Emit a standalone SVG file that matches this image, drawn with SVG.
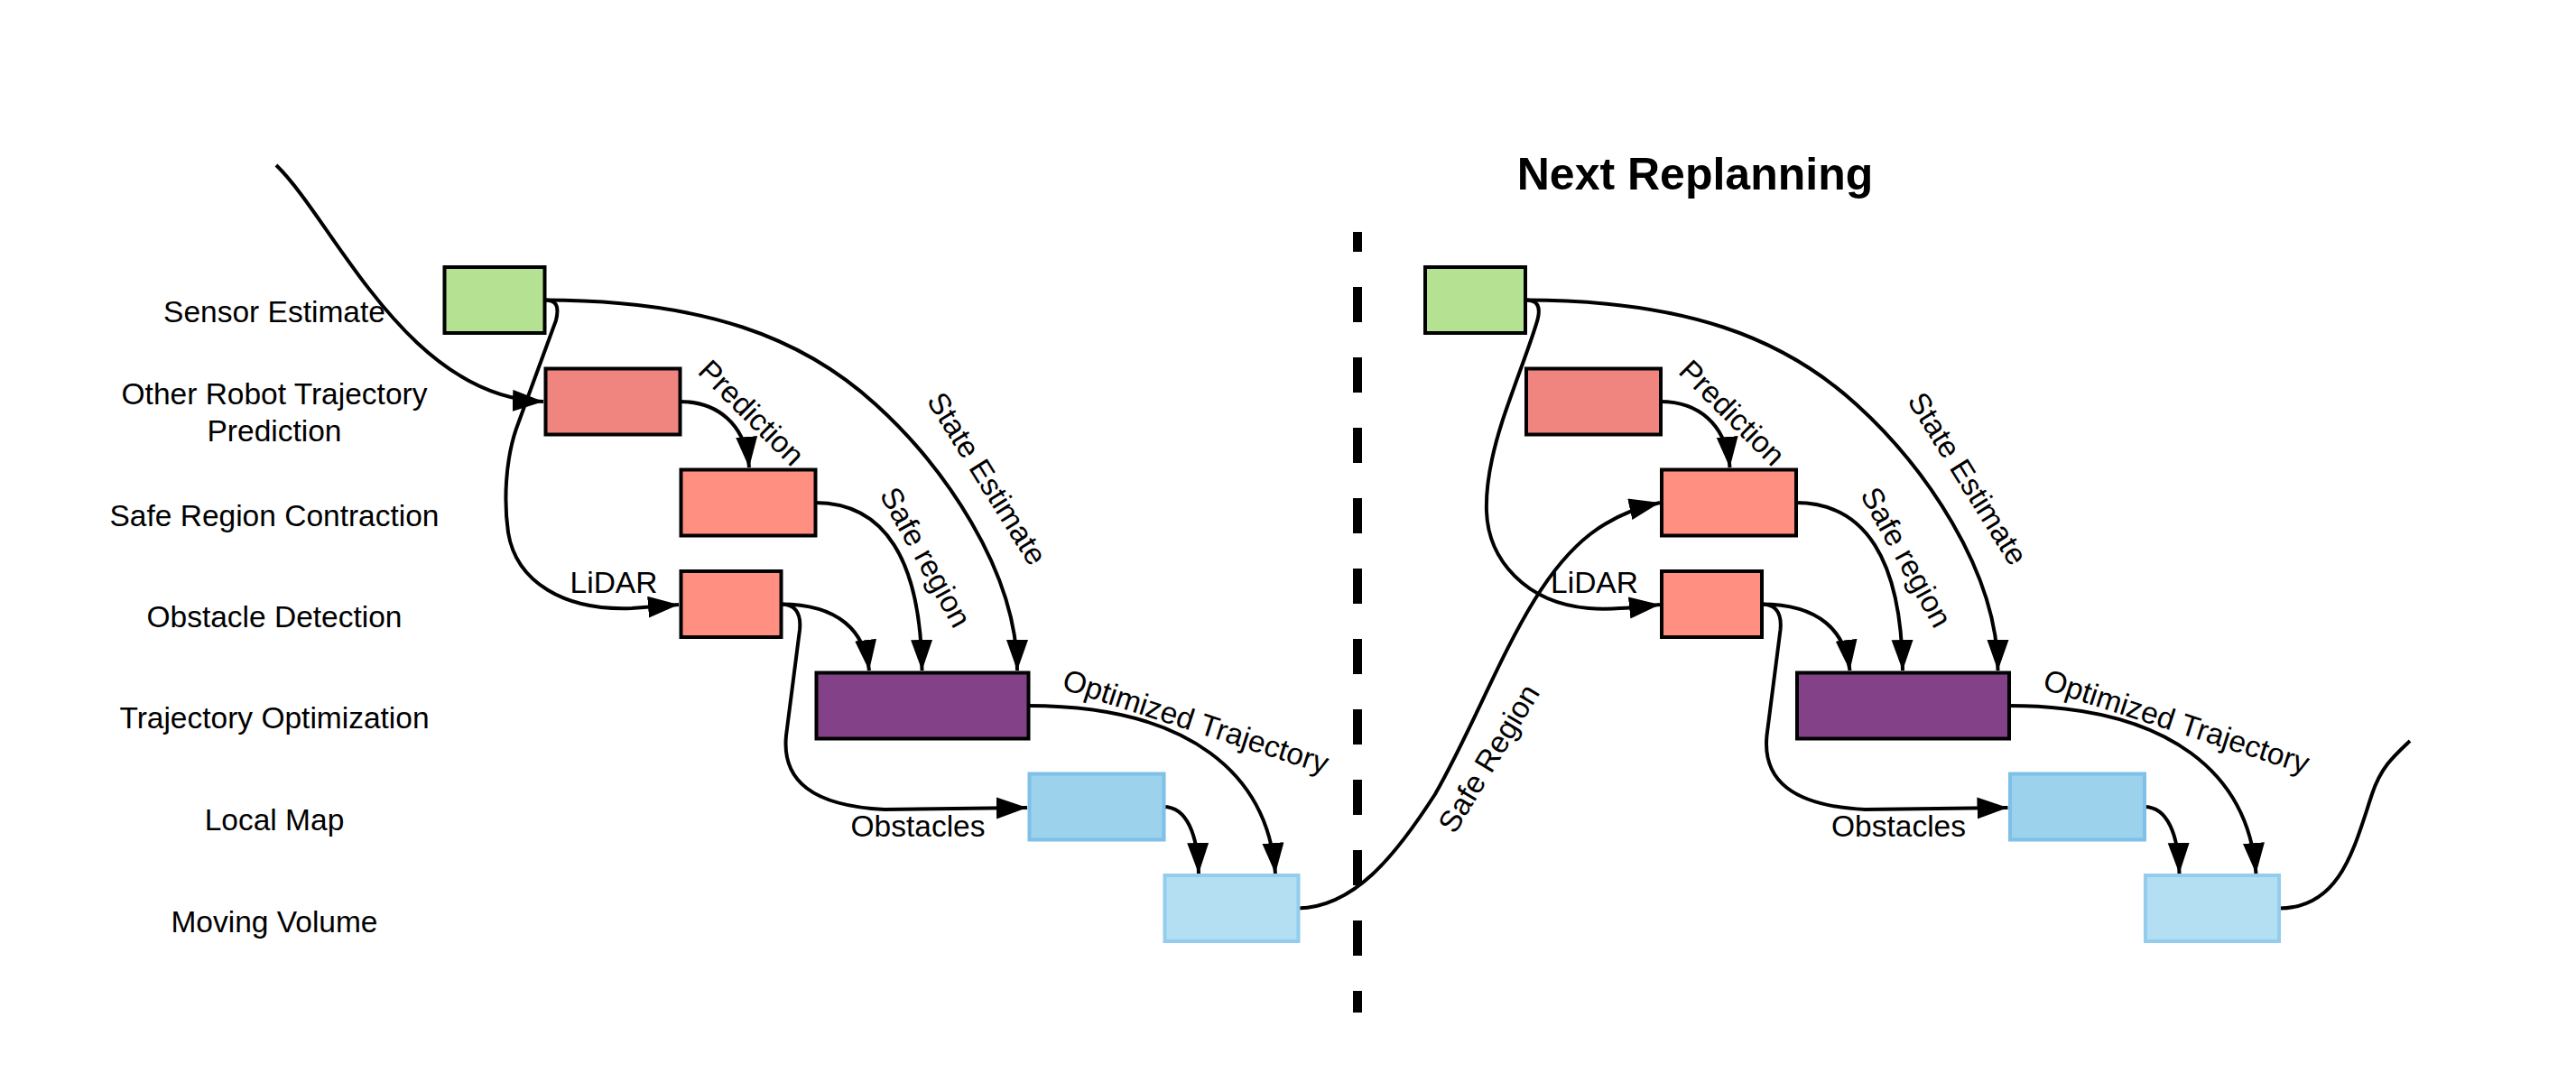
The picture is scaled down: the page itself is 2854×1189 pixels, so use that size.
<svg xmlns="http://www.w3.org/2000/svg" width="2854" height="1189" viewBox="0 0 2854 1189">
<defs>
<marker id="ah" markerUnits="userSpaceOnUse" markerWidth="38" markerHeight="26" refX="34" refY="12" orient="auto">
<path d="M0,0 L34,12 L0,24 z" fill="#000"/>
</marker>
<style>
.lbl{font-family:"Liberation Sans",Arial,sans-serif;font-size:33.5px;fill:#000;text-anchor:middle}
.ttl{font-family:"Liberation Sans",Arial,sans-serif;font-size:50px;font-weight:bold;fill:#000;text-anchor:middle}
.c{fill:none;stroke:#000;stroke-width:4}
.a{marker-end:url(#ah)}
.k{stroke:#000;stroke-width:4}
.green{fill:#B5E193}
.robot{fill:#F08580}
.salmon{fill:#FF8F80}
.purple{fill:#834187}
.lmap{fill:#9DD2ED;stroke:#7DC0E8;stroke-width:4}
.mvol{fill:#B4DEF2;stroke:#92CDEE;stroke-width:4}
</style>
</defs>
<rect width="2854" height="1189" fill="#fff"/>

<g id="row-labels">
<text class="lbl" x="304" y="357">Sensor Estimate</text>
<text class="lbl" x="304" y="448">Other Robot Trajectory</text>
<text class="lbl" x="304" y="489">Prediction</text>
<text class="lbl" x="304" y="583">Safe Region Contraction</text>
<text class="lbl" x="304" y="695">Obstacle Detection</text>
<text class="lbl" x="304" y="807">Trajectory Optimization</text>
<text class="lbl" x="304" y="920">Local Map</text>
<text class="lbl" x="304" y="1033">Moving Volume</text>
</g>

<g id="title"><text class="ttl" x="1878" y="210">Next Replanning</text></g>

<g id="divider"><line x1="1504" y1="257" x2="1504" y2="1122" stroke="#000" stroke-width="10" stroke-dasharray="39 39" stroke-dashoffset="17"/></g>

<g id="connectors">
<!-- left half -->
<path class="c a" d="M306,183 C370,245 450,440 602,445"/>
<path class="c a" d="M603,332.5 C616,332.5 620,338 616,355 L572,475 C560,510 558,555 563,590 C572,645 625,677 700,674 L752,670"/>
<path class="c a" d="M603,332.5 C780,332.5 889,374 970,448 C1044,515 1127,632 1127,743"/>
<path class="c a" d="M753,445 C795,445 826,470 830,518"/>
<path class="c a" d="M903,557 C980,557 1020,620 1021.5,743"/>
<path class="c a" d="M865,669.5 C930,669.5 958,700 963,743"/>
<path class="c a" d="M865,669.5 C880,669.5 888,678 886,698 L871,815 C866,865 900,893 980,897 L1138,895"/>
<path class="c a" d="M1139,782 C1320,782 1405,860 1413,968"/>
<path class="c a" d="M1289,894 C1315,894 1327,925 1328,968"/>
<path class="c a" d="M1438,1006.5 C1500,1005 1545,950 1590,880 C1630,810 1660,730 1700,665 C1740,600 1780,570 1839,557"/>
<!-- right half -->
<path class="c a" d="M1690,332.5 C1702,332.5 1707,338 1704,352 C1700,370 1680,420 1665,465 C1652,505 1646,540 1647,567 C1649,620 1690,668 1760,674 C1785,676 1810,673 1839,670"/>
<path class="c a" d="M1689.5,332.5 C1866.5,332.5 1975.5,374 2056.5,448 C2130.5,515 2213.5,632 2213.5,743"/>
<path class="c a" d="M1839.5,445 C1881.5,445 1912.5,470 1916.5,518"/>
<path class="c a" d="M1989.5,557 C2066.5,557 2106.5,620 2108,743"/>
<path class="c a" d="M1951.5,669.5 C2016.5,669.5 2044.5,700 2049.5,743"/>
<path class="c a" d="M1951.5,669.5 C1966.5,669.5 1974.5,678 1972.5,698 L1957.5,815 C1952.5,865 1986.5,893 2066.5,897 L2224.5,895"/>
<path class="c a" d="M2225.5,782 C2406.5,782 2491.5,860 2499.5,968"/>
<path class="c a" d="M2375.5,894 C2401.5,894 2413.5,925 2414.5,968"/>
<path class="c" d="M2525,1006.5 C2593,1006.5 2608,940 2628,880 C2638,850 2652,838 2670,821"/>
</g>

<g id="edge-labels">
<text class="lbl" x="680" y="657">LiDAR</text>
<text class="lbl" transform="translate(833,457) rotate(45)" y="12">Prediction</text>
<text class="lbl" transform="translate(1094,530) rotate(58)" y="12">State Estimate</text>
<text class="lbl" transform="translate(1026,617) rotate(61)" y="12">Safe region</text>
<text class="lbl" x="1017" y="927">Obstacles</text>
<text class="lbl" transform="translate(1325,799) rotate(18)" y="12">Optimized Trajectory</text>
<text class="lbl" transform="translate(1649,840) rotate(-59)" y="12">Safe Region</text>
<text class="lbl" x="1766.5" y="657">LiDAR</text>
<text class="lbl" transform="translate(1919.5,457) rotate(45)" y="12">Prediction</text>
<text class="lbl" transform="translate(2180.5,530) rotate(58)" y="12">State Estimate</text>
<text class="lbl" transform="translate(2112.5,617) rotate(61)" y="12">Safe region</text>
<text class="lbl" x="2103.5" y="927">Obstacles</text>
<text class="lbl" transform="translate(2411.5,799) rotate(18)" y="12">Optimized Trajectory</text>
</g>

<g id="L-sensor"><rect class="green k" x="492.5" y="296" width="111" height="73"/></g>
<g id="L-robot"><rect class="robot k" x="604.5" y="408.5" width="149" height="73"/></g>
<g id="L-safe"><rect class="salmon k" x="754.5" y="520.5" width="149" height="73"/></g>
<g id="L-obstacle"><rect class="salmon k" x="754.5" y="633" width="111" height="73"/></g>
<g id="L-trajopt"><rect class="purple k" x="904.5" y="745.5" width="235" height="73"/></g>
<g id="L-localmap"><rect class="lmap" x="1140.5" y="857.5" width="149" height="73"/></g>
<g id="L-moving"><rect class="mvol" x="1290.5" y="970" width="148" height="73"/></g>

<g id="R-sensor"><rect class="green k" x="1579" y="296" width="111" height="73"/></g>
<g id="R-robot"><rect class="robot k" x="1691" y="408.5" width="149" height="73"/></g>
<g id="R-safe"><rect class="salmon k" x="1841" y="520.5" width="149" height="73"/></g>
<g id="R-obstacle"><rect class="salmon k" x="1841" y="633" width="111" height="73"/></g>
<g id="R-trajopt"><rect class="purple k" x="1991" y="745.5" width="235" height="73"/></g>
<g id="R-localmap"><rect class="lmap" x="2227" y="857.5" width="149" height="73"/></g>
<g id="R-moving"><rect class="mvol" x="2377" y="970" width="148" height="73"/></g>
</svg>
